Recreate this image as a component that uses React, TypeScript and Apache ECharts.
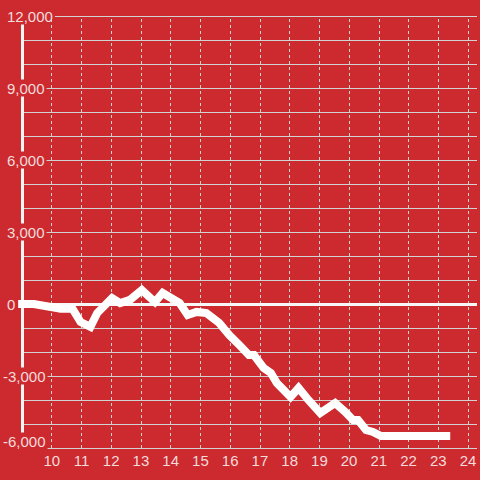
import React, { useEffect, useRef } from "react";
import * as echarts from "echarts";

const xValues = [8.87, 9.4, 10.3, 10.7, 10.97, 11.3, 11.53, 12.03, 12.3, 12.63, 13.03, 13.47, 13.73, 14.3, 14.57, 14.87, 15.2, 15.63, 15.97, 16.3, 16.63, 16.8, 17.13, 17.37, 17.57, 18.03, 18.3, 18.63, 19.03, 19.53, 19.87, 20.13, 20.3, 20.57, 20.8, 21.07, 23.4];
const yValues = [0, 0, -200, -200, -750, -950, -375, 250, 40, 170, 580, 80, 460, 40, -460, -330, -375, -790, -1290, -1700, -2125, -2125, -2670, -2875, -3290, -3875, -3500, -4000, -4540, -4125, -4500, -4830, -4830, -5250, -5330, -5500, -5500];
const xTicks = [10, 11, 12, 13, 14, 15, 16, 17, 18, 19, 20, 21, 22, 23, 24];

const BG = "#cc2a2f";
const TEXT = "#f3dcdc";
const GRID = "#d2d2d2";
const FONT = "Liberation Sans, Arial, sans-serif";

export default function App() {
  const ref = useRef<HTMLDivElement>(null);
  useEffect(() => {
    if (!ref.current) return;
    const chart = echarts.init(ref.current, undefined, { renderer: "svg" });
    const data = xValues.map((x, i) => [x, yValues[i]]);
    const verticals = xTicks.map((v) => ({
      xAxis: v,
      lineStyle: { color: GRID, width: 1, type: [3, 3] },
    }));
    chart.setOption({
      animation: false,
      backgroundColor: BG,
      grid: { left: 21, right: 0, top: 16, bottom: 32, containLabel: false },
      xAxis: {
        type: "value",
        min: 9,
        max: 24.3,
        interval: 1,
        axisLine: { show: false },
        axisTick: { show: false },
        minorTick: { show: false },
        minorSplitLine: { show: false },
        axisLabel: {
          color: TEXT,
          fontSize: 15,
          fontFamily: FONT,
          margin: 5,
          formatter: (v: number) => (xTicks.indexOf(v) >= 0 ? String(v) : ""),
        },
        splitLine: { show: false },
      },
      yAxis: {
        type: "value",
        min: -6000,
        max: 12000,
        interval: 3000,
        axisLine: { show: true, lineStyle: { color: "#f4f4f4", width: 3 } },
        axisTick: { show: false },
        splitLine: { show: true, lineStyle: { color: GRID, width: 1 } },
        minorTick: { show: false, splitNumber: 3 },
        minorSplitLine: { show: true, lineStyle: { color: GRID, width: 1 } },
        axisLabel: {
          color: TEXT,
          fontSize: 15,
          fontFamily: FONT,
          align: "left",
          margin: 19,
          backgroundColor: BG,
          padding: [1, 2, 1, 0],
          formatter: (v: number) => {
            const s = v.toLocaleString("en-US");
            if (v === -6000) return "{m|" + s + "}";
            return v >= 0 ? "{p|" + s + "}" : s;
          },
          rich: {
            p: { color: TEXT, fontSize: 15, fontFamily: FONT, padding: [0, 0, 0, 4] },
            m: { color: TEXT, fontSize: 15, fontFamily: FONT, padding: [0, 0, 14, 0] },
          },
        },
      },
      series: [
        {
          type: "line",
          data,
          showSymbol: false,
          symbol: "none",
          silent: true,
          lineStyle: { opacity: 0, width: 0 },
          z: 1,
          markLine: {
            silent: true,
            symbol: "none",
            label: { show: false },
            animation: false,
            data: [
              ...verticals,
              { yAxis: 0, lineStyle: { color: "#f7f7f7", width: 3, type: "solid" } },
            ],
          },
        },
        {
          type: "line",
          data,
          showSymbol: false,
          symbol: "none",
          clip: false,
          lineStyle: { color: "#ffffff", width: 8, join: "miter" },
          z: 5,
        },
      ],
    });
    return () => chart.dispose();
  }, []);
  return (
    <div
      ref={ref}
      style={{ position: "fixed", left: 0, top: 0, width: 480, height: 480 }}
    />
  );
}
